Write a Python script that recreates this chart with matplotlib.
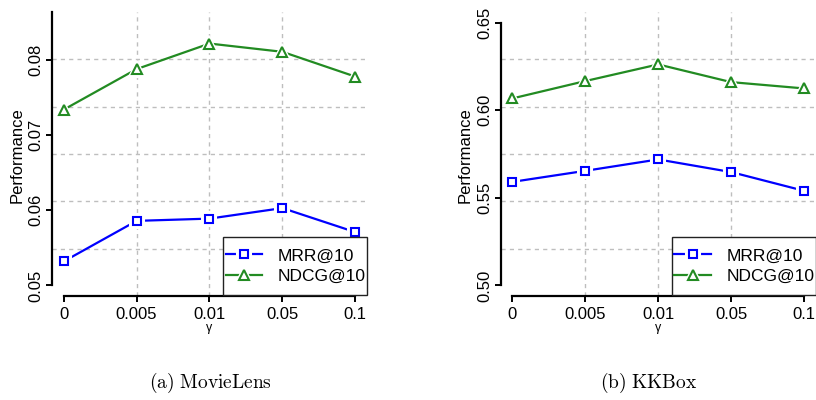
import matplotlib
matplotlib.use("Agg")
import matplotlib.pyplot as plt
from matplotlib.legend_handler import HandlerTuple
from matplotlib.patches import Rectangle

plt.rcParams['font.family'] = ['Liberation Sans', 'DejaVu Sans']
plt.rcParams['mathtext.fontset'] = 'cm'

gamma_labels = ["0", "0.005", "0.01", "0.05", "0.1"]
x_pos = [1, 2, 3, 4, 5]

ml_mrr = [0.0532, 0.0586, 0.0589, 0.0603, 0.0571]
ml_ndcg = [0.0734, 0.0788, 0.0822, 0.0811, 0.0778]
kk_mrr = [0.5591, 0.5654, 0.5719, 0.5647, 0.5540]
kk_ndcg = [0.6067, 0.6166, 0.6261, 0.6160, 0.6124]

ml_ylim = (0.05, 0.085)
ml_yticks = [0.05, 0.06, 0.07, 0.08]
kk_ylim = (0.50, 0.65)
kk_yticks = [0.50, 0.55, 0.60, 0.65]

BLUE = "#0000FF"
GREEN = "#228B22"
W, H = 816, 400
AX_W, AX_H = 315, 284
fig = plt.figure(figsize=(W / 100, H / 100), dpi=100)


def ext(lo, hi):
    r = hi - lo
    return lo - 0.04 * r, hi + 0.04 * r


def draw(ax, mrr, ndcg, ylim, yticks, fmt):
    xl = ext(1, 5)
    yl = ext(*ylim)
    ax.set_xlim(*xl)
    ax.set_ylim(*yl)
    for k in range(1, 6):
        yy = yl[0] + (yl[1] - yl[0]) * k / 6
        ax.plot([0, 1], [yy, yy], transform=ax.get_yaxis_transform(),
                color="#BEBEBE", lw=1.0, ls=(0, (3, 3)), zorder=1, clip_on=False)
    for xx in [2, 3, 4]:
        ax.axvline(xx, color="#BEBEBE", lw=1.0, ls=(0, (3, 3)), zorder=1)
    handles = []
    for vals, col, mk, ms, lab in [(mrr, BLUE, 's', 5.8, "MRR@10"),
                                   (ndcg, GREEN, '^', 7.2, "NDCG@10")]:
        ln, = ax.plot(x_pos, vals, color=col, lw=1.6, zorder=3)
        wh, = ax.plot(x_pos, vals, ls='none', marker=mk, ms=ms + 4,
                      mfc='white', mec='white', mew=1.5, zorder=4)
        mm, = ax.plot(x_pos, vals, ls='none', marker=mk, ms=ms,
                      mfc='white', mec=col, mew=1.5, zorder=5)
        handles.append(((ln, wh, mm), lab))
    bx0 = (223 - 52) / AX_W
    by0 = 1.0 / AX_H
    bw = 1 - bx0
    bh = (295 - 237) / AX_H
    ax.add_patch(Rectangle((bx0, by0), bw, bh, transform=ax.transAxes,
                           facecolor='white', edgecolor='#222222', lw=1.0,
                           zorder=9, clip_on=False))
    leg = ax.legend([h for h, _ in handles], [l for _, l in handles],
                    handler_map={tuple: HandlerTuple(ndivide=1, pad=0)},
                    loc='center left', bbox_to_anchor=(bx0, by0, bw, bh),
                    borderaxespad=0, fontsize=12.5, handlelength=2.1,
                    handletextpad=0.9, labelspacing=0.3, borderpad=0.15,
                    frameon=False)
    leg.set_zorder(10)
    for s in ['top', 'right']:
        ax.spines[s].set_visible(False)
    ax.spines['left'].set_linewidth(1.6)
    ax.spines['bottom'].set_linewidth(1.6)
    ax.spines['bottom'].set_bounds(1, 5)
    ax.set_xticks(x_pos)
    ax.set_xticklabels(gamma_labels)
    ax.set_yticks(yticks)
    ax.set_yticklabels([fmt.format(v) for v in yticks], rotation=90, va='center')
    ax.tick_params(axis='both', labelsize=12, length=4, width=1.4, color='black')
    ax.tick_params(axis='y', pad=2)
    ax.tick_params(axis='x', pad=4)
    return yl


ax1 = fig.add_axes([52 / W, 1 - 296 / H, AX_W / W, AX_H / H])
yl1 = draw(ax1, ml_mrr, ml_ndcg, ml_ylim, ml_yticks, "{:.2f}")
ax1.spines['left'].set_bounds(ml_yticks[0], yl1[1])

ax2 = fig.add_axes([500.7 / W, 1 - 296 / H, AX_W / W, AX_H / H])
yl2 = draw(ax2, kk_mrr, kk_ndcg, kk_ylim, kk_yticks, "{:.2f}")
ax2.spines['left'].set_bounds(kk_yticks[0], kk_yticks[-1])

fig.text(17 / W, 1 - 155 / H, "Performance", rotation=90, ha='center', va='center', fontsize=12)
fig.text(465 / W, 1 - 155 / H, "Performance", rotation=90, ha='center', va='center', fontsize=12)
fig.text(209 / W, 1 - 328 / H, "γ", ha='center', va='center', fontsize=9)
fig.text(658 / W, 1 - 328 / H, "γ", ha='center', va='center', fontsize=9)
fig.text(210 / W, 1 - 383 / H, r"$\mathrm{(a)\ MovieLens}$", ha='center', va='center', fontsize=14)
fig.text(649 / W, 1 - 383 / H, r"$\mathrm{(b)\ KKBox}$", ha='center', va='center', fontsize=14)

fig.savefig("out.png", dpi=100)
